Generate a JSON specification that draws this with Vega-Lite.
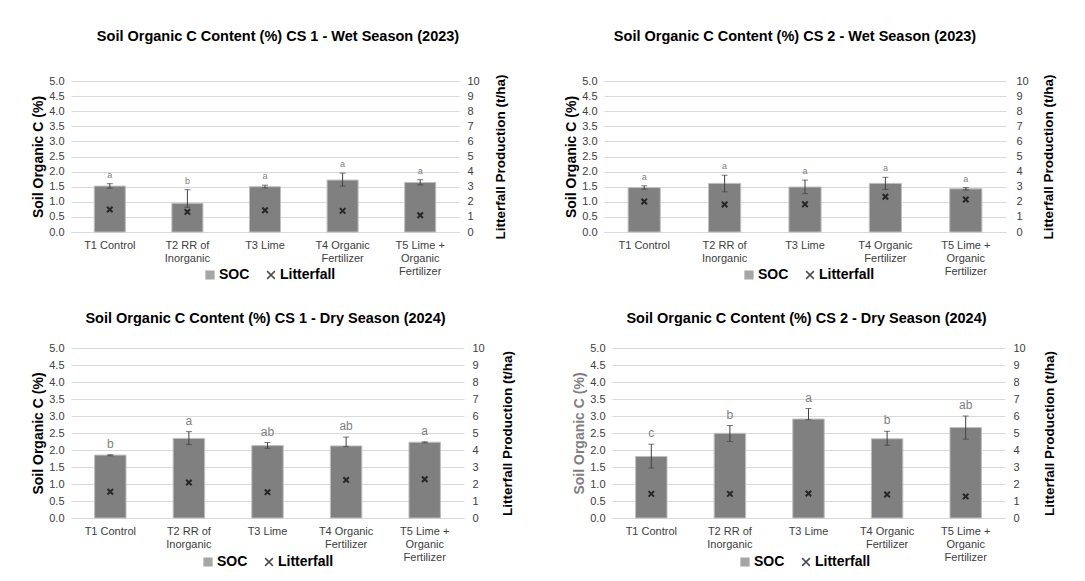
{
"$schema": "https://vega.github.io/schema/vega-lite/v6.json",
"background": "white",
"padding": {"left": 31, "top": 28, "right": 5, "bottom": 5},
"config": {"font": "Liberation Sans", "view": {"stroke": null}, "title": {"fontSize": 14.5, "fontWeight": "bold", "color": "black", "offset": 30}},
"data": {"values": [
{"panel":"CS1W","trt":"T1 Control","soc":1.52,"lo":1.45,"hi":1.60,"lit":1.49,"letter":"a"},
{"panel":"CS1W","trt":"T2 RR of|Inorganic","soc":0.95,"lo":0.82,"hi":1.40,"lit":1.33,"letter":"b"},
{"panel":"CS1W","trt":"T3 Lime","soc":1.50,"lo":1.46,"hi":1.55,"lit":1.44,"letter":"a"},
{"panel":"CS1W","trt":"T4 Organic|Fertilizer","soc":1.72,"lo":1.52,"hi":1.95,"lit":1.40,"letter":"a"},
{"panel":"CS1W","trt":"T5 Lime +|Organic|Fertilizer","soc":1.64,"lo":1.56,"hi":1.73,"lit":1.11,"letter":"a"},
{"panel":"CS2W","trt":"T1 Control","soc":1.47,"lo":1.42,"hi":1.53,"lit":2.02,"letter":"a"},
{"panel":"CS2W","trt":"T2 RR of|Inorganic","soc":1.61,"lo":1.33,"hi":1.88,"lit":1.82,"letter":"a"},
{"panel":"CS2W","trt":"T3 Lime","soc":1.49,"lo":1.27,"hi":1.72,"lit":1.84,"letter":"a"},
{"panel":"CS2W","trt":"T4 Organic|Fertilizer","soc":1.61,"lo":1.41,"hi":1.81,"lit":2.33,"letter":"a"},
{"panel":"CS2W","trt":"T5 Lime +|Organic|Fertilizer","soc":1.43,"lo":1.39,"hi":1.47,"lit":2.15,"letter":"a"},
{"panel":"CS1D","trt":"T1 Control","soc":1.85,"lo":1.83,"hi":1.86,"lit":1.54,"letter":"b"},
{"panel":"CS1D","trt":"T2 RR of|Inorganic","soc":2.34,"lo":2.16,"hi":2.54,"lit":2.09,"letter":"a"},
{"panel":"CS1D","trt":"T3 Lime","soc":2.13,"lo":2.05,"hi":2.22,"lit":1.52,"letter":"ab"},
{"panel":"CS1D","trt":"T4 Organic|Fertilizer","soc":2.12,"lo":2.10,"hi":2.38,"lit":2.24,"letter":"ab"},
{"panel":"CS1D","trt":"T5 Lime +|Organic|Fertilizer","soc":2.23,"lo":2.21,"hi":2.24,"lit":2.28,"letter":"a"},
{"panel":"CS2D","trt":"T1 Control","soc":1.81,"lo":1.47,"hi":2.17,"lit":1.42,"letter":"c"},
{"panel":"CS2D","trt":"T2 RR of|Inorganic","soc":2.49,"lo":2.25,"hi":2.72,"lit":1.42,"letter":"b"},
{"panel":"CS2D","trt":"T3 Lime","soc":2.91,"lo":2.89,"hi":3.22,"lit":1.44,"letter":"a"},
{"panel":"CS2D","trt":"T4 Organic|Fertilizer","soc":2.33,"lo":2.14,"hi":2.55,"lit":1.38,"letter":"b"},
{"panel":"CS2D","trt":"T5 Lime +|Organic|Fertilizer","soc":2.66,"lo":2.32,"hi":3.00,"lit":1.27,"letter":"ab"}
]},
"spacing": 28,
"resolve": {"scale": {"shape": "independent", "fill": "independent", "stroke": "independent"}, "legend": {"shape": "independent", "fill": "independent", "stroke": "independent"}},
"vconcat": [
{"hconcat": [
{
"width": 388, "height": 151,
"title": {"text": "Soil Organic C Content (%) CS 1 - Wet Season (2023)", "dx": 13},
"transform": [{"filter": "datum.panel === 'CS1W'"}],
"encoding": {"x": {"field": "trt", "type": "nominal", "sort": null, "scale": {"paddingInner": 0.6, "paddingOuter": 0.3}, "axis": {"title": null, "labelAngle": 0, "labelExpr": "split(datum.value, '|')", "ticks": false, "domainColor": "#d9d9d9", "labelFontSize": 11, "labelColor": "#404040", "labelPadding": 7, "labelLineHeight": 13.3}}},
"layer": [
{"layer": [
{"mark": {"type": "bar", "fill": "#808080", "stroke": "#bfbfbf", "strokeWidth": 1},
 "encoding": {"y": {"field": "soc", "type": "quantitative", "title": "Soil Organic C (%)", "scale": {"domain": [0, 5], "nice": false}, "axis": {"values": [0,0.5,1,1.5,2,2.5,3,3.5,4,4.5,5], "format": ".1f", "grid": true, "gridColor": "#d9d9d9", "domain": false, "ticks": false, "labelFontSize": 11, "labelColor": "#404040", "labelPadding": 7, "titleFontSize": 14, "titleFontWeight": "bold", "titleColor": "black", "titlePadding": 3}}}},
{"mark": {"type": "errorbar", "ticks": {"size": 6, "color": "#404040"}, "rule": {"color": "#404040"}},
 "encoding": {"y": {"field": "lo", "type": "quantitative", "title": "Soil Organic C (%)", "axis": {"values": [0,0.5,1,1.5,2,2.5,3,3.5,4,4.5,5], "format": ".1f", "grid": true, "gridColor": "#d9d9d9", "domain": false, "ticks": false, "labelFontSize": 11, "labelColor": "#404040", "labelPadding": 7, "titleFontSize": 14, "titleFontWeight": "bold", "titleColor": "black", "titlePadding": 3}}, "y2": {"field": "hi"}}},
{"mark": {"type": "text", "fontSize": 9, "dy": -6, "color": "#7f7f7f", "baseline": "alphabetic"},
 "encoding": {"y": {"field": "hi", "type": "quantitative", "title": "Soil Organic C (%)", "axis": {"values": [0,0.5,1,1.5,2,2.5,3,3.5,4,4.5,5], "format": ".1f", "grid": true, "gridColor": "#d9d9d9", "domain": false, "ticks": false, "labelFontSize": 11, "labelColor": "#404040", "labelPadding": 7, "titleFontSize": 14, "titleFontWeight": "bold", "titleColor": "black", "titlePadding": 3}}, "text": {"field": "letter"}}}
]},
{"mark": {"type": "point", "size": 30, "strokeWidth": 2},
 "encoding": {"y": {"field": "lit", "type": "quantitative", "scale": {"domain": [0, 10], "nice": false}, "axis": {"title": "Litterfall Production (t/ha)", "orient": "right", "values": [0,1,2,3,4,5,6,7,8,9,10], "grid": false, "domain": false, "ticks": false, "labelFontSize": 11, "labelColor": "#404040", "labelPadding": 8, "titleFontSize": 13.5, "titleFontWeight": "bold", "titleColor": "black", "titlePadding": 14, "titleAngle": 270, "titleBaseline": "top"}},
 "shape": {"datum": "Litterfall", "scale": {"domain": ["SOC", "Litterfall"], "range": ["square", "M-1,-1L1,1M-1,1L1,-1"]}, "legend": {"orient": "none", "legendX": 132, "legendY": 187, "direction": "horizontal", "title": null, "labelFontSize": 14, "labelFontWeight": "bold", "labelColor": "black", "symbolSize": 60, "symbolStrokeWidth": 1.5, "labelOffset": 2, "columnPadding": 14}},
 "fill": {"datum": "Litterfall", "scale": {"domain": ["SOC", "Litterfall"], "range": ["#808080", "transparent"]}, "legend": {"orient": "none", "legendX": 132, "legendY": 187, "direction": "horizontal", "title": null, "labelFontSize": 14, "labelFontWeight": "bold", "labelColor": "black", "symbolSize": 60, "symbolStrokeWidth": 1.5, "labelOffset": 2, "columnPadding": 14}},
 "stroke": {"datum": "Litterfall", "scale": {"domain": ["SOC", "Litterfall"], "range": ["#808080", "#000000"]}, "legend": {"orient": "none", "legendX": 132, "legendY": 187, "direction": "horizontal", "title": null, "labelFontSize": 14, "labelFontWeight": "bold", "labelColor": "black", "symbolSize": 60, "symbolStrokeWidth": 1.5, "labelOffset": 2, "columnPadding": 14}}}}
],
"resolve": {"scale": {"y": "independent"}}
},
{
"width": 402, "height": 151,
"title": {"text": "Soil Organic C Content (%) CS 2 - Wet Season (2023)", "dx": -10},
"transform": [{"filter": "datum.panel === 'CS2W'"}],
"encoding": {"x": {"field": "trt", "type": "nominal", "sort": null, "scale": {"paddingInner": 0.6, "paddingOuter": 0.3}, "axis": {"title": null, "labelAngle": 0, "labelExpr": "split(datum.value, '|')", "ticks": false, "domainColor": "#d9d9d9", "labelFontSize": 11, "labelColor": "#404040", "labelPadding": 7, "labelLineHeight": 13.3}}},
"layer": [
{"layer": [
{"mark": {"type": "bar", "fill": "#808080", "stroke": "#bfbfbf", "strokeWidth": 1},
 "encoding": {"y": {"field": "soc", "type": "quantitative", "title": "Soil Organic C (%)", "scale": {"domain": [0, 5], "nice": false}, "axis": {"values": [0,0.5,1,1.5,2,2.5,3,3.5,4,4.5,5], "format": ".1f", "grid": true, "gridColor": "#d9d9d9", "domain": false, "ticks": false, "labelFontSize": 11, "labelColor": "#404040", "labelPadding": 7, "titleFontSize": 14, "titleFontWeight": "bold", "titleColor": "black", "titlePadding": 3}}}},
{"mark": {"type": "errorbar", "ticks": {"size": 6, "color": "#404040"}, "rule": {"color": "#404040"}},
 "encoding": {"y": {"field": "lo", "type": "quantitative", "title": "Soil Organic C (%)", "axis": {"values": [0,0.5,1,1.5,2,2.5,3,3.5,4,4.5,5], "format": ".1f", "grid": true, "gridColor": "#d9d9d9", "domain": false, "ticks": false, "labelFontSize": 11, "labelColor": "#404040", "labelPadding": 7, "titleFontSize": 14, "titleFontWeight": "bold", "titleColor": "black", "titlePadding": 3}}, "y2": {"field": "hi"}}},
{"mark": {"type": "text", "fontSize": 9, "dy": -6, "color": "#7f7f7f", "baseline": "alphabetic"},
 "encoding": {"y": {"field": "hi", "type": "quantitative", "title": "Soil Organic C (%)", "axis": {"values": [0,0.5,1,1.5,2,2.5,3,3.5,4,4.5,5], "format": ".1f", "grid": true, "gridColor": "#d9d9d9", "domain": false, "ticks": false, "labelFontSize": 11, "labelColor": "#404040", "labelPadding": 7, "titleFontSize": 14, "titleFontWeight": "bold", "titleColor": "black", "titlePadding": 3}}, "text": {"field": "letter"}}}
]},
{"mark": {"type": "point", "size": 30, "strokeWidth": 2},
 "encoding": {"y": {"field": "lit", "type": "quantitative", "scale": {"domain": [0, 10], "nice": false}, "axis": {"title": "Litterfall Production (t/ha)", "orient": "right", "values": [0,1,2,3,4,5,6,7,8,9,10], "grid": false, "domain": false, "ticks": false, "labelFontSize": 11, "labelColor": "#404040", "labelPadding": 10, "titleFontSize": 13.5, "titleFontWeight": "bold", "titleColor": "black", "titlePadding": 13, "titleAngle": 270, "titleBaseline": "top"}},
 "shape": {"datum": "Litterfall", "scale": {"domain": ["SOC", "Litterfall"], "range": ["square", "M-1,-1L1,1M-1,1L1,-1"]}, "legend": {"orient": "none", "legendX": 138, "legendY": 187, "direction": "horizontal", "title": null, "labelFontSize": 14, "labelFontWeight": "bold", "labelColor": "black", "symbolSize": 60, "symbolStrokeWidth": 1.5, "labelOffset": 2, "columnPadding": 14}},
 "fill": {"datum": "Litterfall", "scale": {"domain": ["SOC", "Litterfall"], "range": ["#808080", "transparent"]}, "legend": {"orient": "none", "legendX": 138, "legendY": 187, "direction": "horizontal", "title": null, "labelFontSize": 14, "labelFontWeight": "bold", "labelColor": "black", "symbolSize": 60, "symbolStrokeWidth": 1.5, "labelOffset": 2, "columnPadding": 14}},
 "stroke": {"datum": "Litterfall", "scale": {"domain": ["SOC", "Litterfall"], "range": ["#808080", "#000000"]}, "legend": {"orient": "none", "legendX": 138, "legendY": 187, "direction": "horizontal", "title": null, "labelFontSize": 14, "labelFontWeight": "bold", "labelColor": "black", "symbolSize": 60, "symbolStrokeWidth": 1.5, "labelOffset": 2, "columnPadding": 14}}}}
],
"resolve": {"scale": {"y": "independent"}}
}
], "spacing": 57, "resolve": {"scale": {"shape": "independent", "fill": "independent", "stroke": "independent"}, "legend": {"shape": "independent", "fill": "independent", "stroke": "independent"}}},
{"hconcat": [
{
"width": 393, "height": 170,
"title": {"text": "Soil Organic C Content (%) CS 1 - Dry Season (2024)", "dx": -2, "offset": 16},
"transform": [{"filter": "datum.panel === 'CS1D'"}],
"encoding": {"x": {"field": "trt", "type": "nominal", "sort": null, "scale": {"paddingInner": 0.6, "paddingOuter": 0.3}, "axis": {"title": null, "labelAngle": 0, "labelExpr": "split(datum.value, '|')", "ticks": false, "domainColor": "#d9d9d9", "labelFontSize": 11, "labelColor": "#404040", "labelPadding": 7, "labelLineHeight": 13.3}}},
"layer": [
{"layer": [
{"mark": {"type": "bar", "fill": "#808080", "stroke": "#bfbfbf", "strokeWidth": 1},
 "encoding": {"y": {"field": "soc", "type": "quantitative", "title": "Soil Organic C (%)", "scale": {"domain": [0, 5], "nice": false}, "axis": {"values": [0,0.5,1,1.5,2,2.5,3,3.5,4,4.5,5], "format": ".1f", "grid": true, "gridColor": "#d9d9d9", "domain": false, "ticks": false, "labelFontSize": 11, "labelColor": "#404040", "labelPadding": 7, "titleFontSize": 14, "titleFontWeight": "bold", "titleColor": "black", "titlePadding": 3}}}},
{"mark": {"type": "errorbar", "ticks": {"size": 6, "color": "#404040"}, "rule": {"color": "#404040"}},
 "encoding": {"y": {"field": "lo", "type": "quantitative", "title": "Soil Organic C (%)", "axis": {"values": [0,0.5,1,1.5,2,2.5,3,3.5,4,4.5,5], "format": ".1f", "grid": true, "gridColor": "#d9d9d9", "domain": false, "ticks": false, "labelFontSize": 11, "labelColor": "#404040", "labelPadding": 7, "titleFontSize": 14, "titleFontWeight": "bold", "titleColor": "black", "titlePadding": 3}}, "y2": {"field": "hi"}}},
{"mark": {"type": "text", "fontSize": 12, "dy": -7, "color": "#7f7f7f", "baseline": "alphabetic"},
 "encoding": {"y": {"field": "hi", "type": "quantitative", "title": "Soil Organic C (%)", "axis": {"values": [0,0.5,1,1.5,2,2.5,3,3.5,4,4.5,5], "format": ".1f", "grid": true, "gridColor": "#d9d9d9", "domain": false, "ticks": false, "labelFontSize": 11, "labelColor": "#404040", "labelPadding": 7, "titleFontSize": 14, "titleFontWeight": "bold", "titleColor": "black", "titlePadding": 3}}, "text": {"field": "letter"}}}
]},
{"mark": {"type": "point", "size": 30, "strokeWidth": 2},
 "encoding": {"y": {"field": "lit", "type": "quantitative", "scale": {"domain": [0, 10], "nice": false}, "axis": {"title": "Litterfall Production (t/ha)", "orient": "right", "values": [0,1,2,3,4,5,6,7,8,9,10], "grid": false, "domain": false, "ticks": false, "labelFontSize": 11, "labelColor": "#404040", "labelPadding": 8, "titleFontSize": 13.5, "titleFontWeight": "bold", "titleColor": "black", "titlePadding": 16, "titleAngle": 270, "titleBaseline": "top"}},
 "shape": {"datum": "Litterfall", "scale": {"domain": ["SOC", "Litterfall"], "range": ["square", "M-1,-1L1,1M-1,1L1,-1"]}, "legend": {"orient": "none", "legendX": 130, "legendY": 207, "direction": "horizontal", "title": null, "labelFontSize": 14, "labelFontWeight": "bold", "labelColor": "black", "symbolSize": 60, "symbolStrokeWidth": 1.5, "labelOffset": 2, "columnPadding": 14}},
 "fill": {"datum": "Litterfall", "scale": {"domain": ["SOC", "Litterfall"], "range": ["#808080", "transparent"]}, "legend": {"orient": "none", "legendX": 130, "legendY": 207, "direction": "horizontal", "title": null, "labelFontSize": 14, "labelFontWeight": "bold", "labelColor": "black", "symbolSize": 60, "symbolStrokeWidth": 1.5, "labelOffset": 2, "columnPadding": 14}},
 "stroke": {"datum": "Litterfall", "scale": {"domain": ["SOC", "Litterfall"], "range": ["#808080", "#000000"]}, "legend": {"orient": "none", "legendX": 130, "legendY": 207, "direction": "horizontal", "title": null, "labelFontSize": 14, "labelFontWeight": "bold", "labelColor": "black", "symbolSize": 60, "symbolStrokeWidth": 1.5, "labelOffset": 2, "columnPadding": 14}}}}
],
"resolve": {"scale": {"y": "independent"}}
},
{
"width": 393, "height": 170,
"title": {"text": "Soil Organic C Content (%) CS 2 - Dry Season (2024)", "dx": -2, "offset": 16},
"transform": [{"filter": "datum.panel === 'CS2D'"}],
"encoding": {"x": {"field": "trt", "type": "nominal", "sort": null, "scale": {"paddingInner": 0.6, "paddingOuter": 0.3}, "axis": {"title": null, "labelAngle": 0, "labelExpr": "split(datum.value, '|')", "ticks": false, "domainColor": "#d9d9d9", "labelFontSize": 11, "labelColor": "#404040", "labelPadding": 7, "labelLineHeight": 13.3}}},
"layer": [
{"layer": [
{"mark": {"type": "bar", "fill": "#808080", "stroke": "#bfbfbf", "strokeWidth": 1},
 "encoding": {"y": {"field": "soc", "type": "quantitative", "title": "Soil Organic C (%)", "scale": {"domain": [0, 5], "nice": false}, "axis": {"values": [0,0.5,1,1.5,2,2.5,3,3.5,4,4.5,5], "format": ".1f", "grid": true, "gridColor": "#d9d9d9", "domain": false, "ticks": false, "labelFontSize": 11, "labelColor": "#404040", "labelPadding": 7, "titleFontSize": 14, "titleFontWeight": "bold", "titleColor": "#7f7f7f", "titlePadding": 3}}}},
{"mark": {"type": "errorbar", "ticks": {"size": 6, "color": "#404040"}, "rule": {"color": "#404040"}},
 "encoding": {"y": {"field": "lo", "type": "quantitative", "title": "Soil Organic C (%)", "axis": {"values": [0,0.5,1,1.5,2,2.5,3,3.5,4,4.5,5], "format": ".1f", "grid": true, "gridColor": "#d9d9d9", "domain": false, "ticks": false, "labelFontSize": 11, "labelColor": "#404040", "labelPadding": 7, "titleFontSize": 14, "titleFontWeight": "bold", "titleColor": "#7f7f7f", "titlePadding": 3}}, "y2": {"field": "hi"}}},
{"mark": {"type": "text", "fontSize": 12, "dy": -7, "color": "#7f7f7f", "baseline": "alphabetic"},
 "encoding": {"y": {"field": "hi", "type": "quantitative", "title": "Soil Organic C (%)", "axis": {"values": [0,0.5,1,1.5,2,2.5,3,3.5,4,4.5,5], "format": ".1f", "grid": true, "gridColor": "#d9d9d9", "domain": false, "ticks": false, "labelFontSize": 11, "labelColor": "#404040", "labelPadding": 7, "titleFontSize": 14, "titleFontWeight": "bold", "titleColor": "#7f7f7f", "titlePadding": 3}}, "text": {"field": "letter"}}}
]},
{"mark": {"type": "point", "size": 30, "strokeWidth": 2},
 "encoding": {"y": {"field": "lit", "type": "quantitative", "scale": {"domain": [0, 10], "nice": false}, "axis": {"title": "Litterfall Production (t/ha)", "orient": "right", "values": [0,1,2,3,4,5,6,7,8,9,10], "grid": false, "domain": false, "ticks": false, "labelFontSize": 11, "labelColor": "#404040", "labelPadding": 8, "titleFontSize": 13.5, "titleFontWeight": "bold", "titleColor": "black", "titlePadding": 17, "titleAngle": 270, "titleBaseline": "top"}},
 "shape": {"datum": "Litterfall", "scale": {"domain": ["SOC", "Litterfall"], "range": ["square", "M-1,-1L1,1M-1,1L1,-1"]}, "legend": {"orient": "none", "legendX": 126, "legendY": 207, "direction": "horizontal", "title": null, "labelFontSize": 14, "labelFontWeight": "bold", "labelColor": "black", "symbolSize": 60, "symbolStrokeWidth": 1.5, "labelOffset": 2, "columnPadding": 14}},
 "fill": {"datum": "Litterfall", "scale": {"domain": ["SOC", "Litterfall"], "range": ["#808080", "transparent"]}, "legend": {"orient": "none", "legendX": 126, "legendY": 207, "direction": "horizontal", "title": null, "labelFontSize": 14, "labelFontWeight": "bold", "labelColor": "black", "symbolSize": 60, "symbolStrokeWidth": 1.5, "labelOffset": 2, "columnPadding": 14}},
 "stroke": {"datum": "Litterfall", "scale": {"domain": ["SOC", "Litterfall"], "range": ["#808080", "#000000"]}, "legend": {"orient": "none", "legendX": 126, "legendY": 207, "direction": "horizontal", "title": null, "labelFontSize": 14, "labelFontWeight": "bold", "labelColor": "black", "symbolSize": 60, "symbolStrokeWidth": 1.5, "labelOffset": 2, "columnPadding": 14}}}}
],
"resolve": {"scale": {"y": "independent"}}
}
], "spacing": 58, "resolve": {"scale": {"shape": "independent", "fill": "independent", "stroke": "independent"}, "legend": {"shape": "independent", "fill": "independent", "stroke": "independent"}}}
]
}
